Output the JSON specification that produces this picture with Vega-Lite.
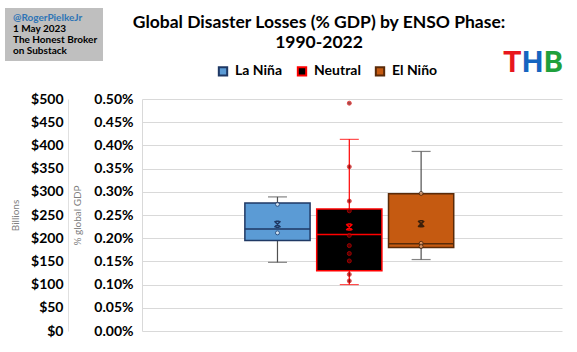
{
  "$schema": "https://vega.github.io/schema/vega-lite/v6.json",
  "width": 420,
  "height": 232,
  "autosize": {"type": "none"},
  "padding": {"left": 142, "top": 99, "right": 15, "bottom": 21},
  "background": "white",
  "title": {
    "text": ["Global Disaster Losses (% GDP) by ENSO Phase:", "1990-2022"],
    "font": "Lato", "fontSize": 17.5, "fontWeight": "bold", "color": "black",
    "anchor": "middle", "frame": "group", "dx": -33, "offset": -61, "baseline": "bottom", "lineHeight": 20
  },
  "datasets": {
    "stats": [
      {"phase": "La Niña", "lo": 0.148, "q1": 0.195, "med": 0.220, "q3": 0.276, "hi": 0.289, "mean": 0.230},
      {"phase": "Neutral", "lo": 0.100, "q1": 0.130, "med": 0.208, "q3": 0.263, "hi": 0.413, "mean": 0.224},
      {"phase": "El Niño", "lo": 0.154, "q1": 0.180, "med": 0.188, "q3": 0.296, "hi": 0.387, "mean": 0.231}
    ],
    "points": [
      {"phase": "La Niña", "v": 0.273},
      {"phase": "La Niña", "v": 0.2115},
      {"phase": "Neutral", "v": 0.491},
      {"phase": "Neutral", "v": 0.354},
      {"phase": "Neutral", "v": 0.280},
      {"phase": "Neutral", "v": 0.259},
      {"phase": "Neutral", "v": 0.206},
      {"phase": "Neutral", "v": 0.184},
      {"phase": "Neutral", "v": 0.167},
      {"phase": "Neutral", "v": 0.151},
      {"phase": "Neutral", "v": 0.122},
      {"phase": "Neutral", "v": 0.108},
      {"phase": "El Niño", "v": 0.2965},
      {"phase": "El Niño", "v": 0.189},
      {"phase": "El Niño", "v": 0.182}
    ],
    "credit": [
      {"line": "@RogerPielkeJr"}, {"line": "1 May 2023"}, {"line": "The Honest Broker"}, {"line": "on Substack"}
    ],
    "logo": [{"letter": "T"}, {"letter": "H"}, {"letter": "B"}],
    "usd": [{"usd": 0}, {"usd": 500}]
  },
  "layer": [
    {
      "data": {"name": "stats"},
      "encoding": {
        "x": {
          "field": "phase", "type": "nominal",
          "scale": {"domain": ["left gap", "La Niña", "Neutral", "El Niño", "right gap"], "paddingInner": 0.092, "paddingOuter": 0.47, "align": 0.46},
          "axis": null
        }
      },
      "layer": [
        {
          "mark": {"type": "rule", "strokeWidth": 1.2},
          "encoding": {
            "y": {
              "field": "lo", "type": "quantitative",
              "scale": {"domain": [0, 0.5], "nice": false, "zero": true},
              "axis": {
                "title": "% global GDP",
                "values": [0, 0.05, 0.1, 0.15, 0.2, 0.25, 0.3, 0.35, 0.4, 0.45, 0.5],
                "labelExpr": "format(datum.value, '.2f') + '%'",
                "labelFont": "Lato", "labelFontSize": 14, "labelFontWeight": "bold", "labelColor": "black",
                "labelPadding": 9, "ticks": false,
                "domainColor": "#d9d9d9", "grid": true, "gridColor": "#d9d9d9",
                "titleFont": "Lato", "titleFontSize": 10, "titleFontWeight": "normal", "titleColor": "#7f7f7f", "titlePadding": 11
              }
            },
            "y2": {"field": "hi"},
            "stroke": {"condition": [{"test": "datum.phase === 'Neutral'", "value": "#FF0000"}], "value": "#505050"}
          }
        },
        {
          "mark": {"type": "bar", "strokeWidth": 1.5, "width": {"band": 1}},
          "encoding": {
            "y": {
              "field": "q1", "type": "quantitative",
              "axis": {
                "title": "% global GDP",
                "values": [0, 0.05, 0.1, 0.15, 0.2, 0.25, 0.3, 0.35, 0.4, 0.45, 0.5],
                "labelExpr": "format(datum.value, '.2f') + '%'",
                "labelFont": "Lato", "labelFontSize": 14, "labelFontWeight": "bold", "labelColor": "black",
                "labelPadding": 9, "ticks": false,
                "domainColor": "#d9d9d9", "grid": true, "gridColor": "#d9d9d9",
                "titleFont": "Lato", "titleFontSize": 10, "titleFontWeight": "normal", "titleColor": "#7f7f7f", "titlePadding": 11
              }
            },
            "y2": {"field": "q3"},
            "fill": {
              "field": "phase", "type": "nominal",
              "scale": {"domain": ["La Niña", "Neutral", "El Niño"], "range": ["#5B9BD5", "#000000", "#C55A11"]},
              "legend": {
                "title": null, "orient": "none", "legendX": 74, "legendY": -35, "direction": "horizontal",
                "symbolType": "square", "symbolSize": 70, "symbolStrokeWidth": 2,
                "labelFont": "Lato", "labelFontSize": 14, "labelFontWeight": "bold", "labelColor": "black",
                "columnPadding": 10, "labelOffset": 5
              }
            },
            "stroke": {
              "field": "phase", "type": "nominal",
              "scale": {"domain": ["La Niña", "Neutral", "El Niño"], "range": ["#1F3864", "#FF0000", "#5A2A08"]},
              "legend": {
                "title": null, "orient": "none", "legendX": 74, "legendY": -35, "direction": "horizontal",
                "symbolType": "square", "symbolSize": 70, "symbolStrokeWidth": 2,
                "labelFont": "Lato", "labelFontSize": 14, "labelFontWeight": "bold", "labelColor": "black",
                "columnPadding": 10, "labelOffset": 5
              }
            }
          }
        },
        {
          "mark": {"type": "bar", "strokeWidth": 1.5, "width": {"band": 1}, "fillOpacity": 0},
          "encoding": {
            "y": {
              "field": "med", "type": "quantitative",
              "axis": {
                "title": "% global GDP",
                "values": [0, 0.05, 0.1, 0.15, 0.2, 0.25, 0.3, 0.35, 0.4, 0.45, 0.5],
                "labelExpr": "format(datum.value, '.2f') + '%'",
                "labelFont": "Lato", "labelFontSize": 14, "labelFontWeight": "bold", "labelColor": "black",
                "labelPadding": 9, "ticks": false,
                "domainColor": "#d9d9d9", "grid": true, "gridColor": "#d9d9d9",
                "titleFont": "Lato", "titleFontSize": 10, "titleFontWeight": "normal", "titleColor": "#7f7f7f", "titlePadding": 11
              }
            },
            "y2": {"field": "med"},
            "stroke": {"condition": [{"test": "datum.phase === 'Neutral'", "value": "#FF0000"}, {"test": "datum.phase === 'La Niña'", "value": "#1F3864"}], "value": "#5A2A08"}
          }
        },
        {
          "mark": {"type": "tick", "size": 19, "thickness": 1.2},
          "encoding": {
            "y": {
              "field": "lo", "type": "quantitative",
              "axis": {
                "title": "% global GDP",
                "values": [0, 0.05, 0.1, 0.15, 0.2, 0.25, 0.3, 0.35, 0.4, 0.45, 0.5],
                "labelExpr": "format(datum.value, '.2f') + '%'",
                "labelFont": "Lato", "labelFontSize": 14, "labelFontWeight": "bold", "labelColor": "black",
                "labelPadding": 9, "ticks": false,
                "domainColor": "#d9d9d9", "grid": true, "gridColor": "#d9d9d9",
                "titleFont": "Lato", "titleFontSize": 10, "titleFontWeight": "normal", "titleColor": "#7f7f7f", "titlePadding": 11
              }
            },
            "color": {"condition": [{"test": "datum.phase === 'Neutral'", "value": "#FF0000"}], "value": "#505050"}
          }
        },
        {
          "mark": {"type": "tick", "size": 19, "thickness": 1.2},
          "encoding": {
            "y": {
              "field": "hi", "type": "quantitative",
              "axis": {
                "title": "% global GDP",
                "values": [0, 0.05, 0.1, 0.15, 0.2, 0.25, 0.3, 0.35, 0.4, 0.45, 0.5],
                "labelExpr": "format(datum.value, '.2f') + '%'",
                "labelFont": "Lato", "labelFontSize": 14, "labelFontWeight": "bold", "labelColor": "black",
                "labelPadding": 9, "ticks": false,
                "domainColor": "#d9d9d9", "grid": true, "gridColor": "#d9d9d9",
                "titleFont": "Lato", "titleFontSize": 10, "titleFontWeight": "normal", "titleColor": "#7f7f7f", "titlePadding": 11
              }
            },
            "color": {"condition": [{"test": "datum.phase === 'Neutral'", "value": "#FF0000"}], "value": "#505050"}
          }
        },
        {
          "data": {"name": "points"},
          "mark": {"type": "point", "shape": "circle", "filled": false, "size": 16, "strokeWidth": 1},
          "encoding": {
            "y": {
              "field": "v", "type": "quantitative",
              "axis": {
                "title": "% global GDP",
                "values": [0, 0.05, 0.1, 0.15, 0.2, 0.25, 0.3, 0.35, 0.4, 0.45, 0.5],
                "labelExpr": "format(datum.value, '.2f') + '%'",
                "labelFont": "Lato", "labelFontSize": 14, "labelFontWeight": "bold", "labelColor": "black",
                "labelPadding": 9, "ticks": false,
                "domainColor": "#d9d9d9", "grid": true, "gridColor": "#d9d9d9",
                "titleFont": "Lato", "titleFontSize": 10, "titleFontWeight": "normal", "titleColor": "#7f7f7f", "titlePadding": 11
              }
            },
            "fill": {"condition": [{"test": "datum.phase === 'Neutral'", "value": "#7A0000"}, {"test": "datum.phase === 'La Niña'", "value": "#FFFFFF"}], "value": "#F4B183"},
            "stroke": {"condition": [{"test": "datum.phase === 'Neutral'", "value": "#E00000"}, {"test": "datum.phase === 'La Niña'", "value": "#1F3864"}], "value": "#3B1F0A"},
            "fillOpacity": {"value": 1}
          }
        },
        {
          "mark": {"type": "point", "shape": "M-1,-1L1,1M1,-1L-1,1M-0.6,-1L0.6,-1M-0.6,1L0.6,1", "filled": false, "size": 36, "strokeWidth": 1.6, "opacity": 1},
          "encoding": {
            "y": {
              "field": "mean", "type": "quantitative",
              "axis": {
                "title": "% global GDP",
                "values": [0, 0.05, 0.1, 0.15, 0.2, 0.25, 0.3, 0.35, 0.4, 0.45, 0.5],
                "labelExpr": "format(datum.value, '.2f') + '%'",
                "labelFont": "Lato", "labelFontSize": 14, "labelFontWeight": "bold", "labelColor": "black",
                "labelPadding": 9, "ticks": false,
                "domainColor": "#d9d9d9", "grid": true, "gridColor": "#d9d9d9",
                "titleFont": "Lato", "titleFontSize": 10, "titleFontWeight": "normal", "titleColor": "#7f7f7f", "titlePadding": 11
              }
            },
            "color": {"condition": [{"test": "datum.phase === 'Neutral'", "value": "#FF0000"}, {"test": "datum.phase === 'La Niña'", "value": "#1F3864"}], "value": "#3B1F0A"}
          }
        }
      ]
    },
    {
      "data": {"name": "usd"},
      "mark": {"type": "point", "opacity": 0},
      "encoding": {
        "y": {
          "field": "usd", "type": "quantitative",
          "scale": {"domain": [0, 500], "nice": false},
          "axis": {
            "orient": "left", "offset": 74, "title": "Billions",
            "values": [0, 50, 100, 150, 200, 250, 300, 350, 400, 450, 500],
            "labelExpr": "'$' + datum.value",
            "labelFont": "Lato", "labelFontSize": 14, "labelFontWeight": "bold", "labelColor": "black",
            "labelPadding": 5, "ticks": false, "grid": false, "domainColor": "#e0e0e0",
            "titleFont": "Lato", "titleFontSize": 10, "titleFontWeight": "normal", "titleColor": "#7f7f7f", "titlePadding": 10
          }
        }
      }
    },
    {
      "data": {"name": "credit"},
      "mark": {"type": "point", "opacity": 0},
      "encoding": {
        "shape": {
          "field": "line", "type": "nominal",
          "scale": {"domain": ["@RogerPielkeJr", "1 May 2023", "The Honest Broker", "on Substack"]},
          "legend": {
            "title": null, "orient": "none", "legendX": -137, "legendY": -91,
            "fillColor": "#bfbfbf", "padding": 5, "symbolSize": 0, "symbolOpacity": 0, "symbolStrokeWidth": 0,
            "labelFont": "Lato", "labelFontSize": 10, "labelFontWeight": "bold",
            "labelColor": {"expr": "datum.value === '@RogerPielkeJr' ? '#2E75B6' : 'black'"},
            "rowPadding": 1, "labelOffset": -7
          }
        }
      }
    },
    {
      "data": {"name": "logo"},
      "mark": {"type": "point", "opacity": 0},
      "encoding": {
        "shape": {
          "field": "letter", "type": "nominal",
          "scale": {"domain": ["T", "H", "B"]},
          "legend": {
            "title": null, "orient": "none", "legendX": 364, "legendY": -51, "direction": "horizontal",
            "symbolSize": 0, "symbolOpacity": 0, "symbolStrokeWidth": 0, "labelOffset": -33, "columnPadding": 0,
            "labelFont": "Roboto", "labelFontSize": 30, "labelFontWeight": "bold",
            "labelColor": {"expr": "datum.value === 'T' ? '#E8161D' : datum.value === 'H' ? '#1565C0' : '#1FA03C'"}
          }
        }
      }
    }
  ],
  "resolve": {"scale": {"y": "independent", "shape": "independent"}, "legend": {"shape": "independent"}},
  "config": {
    "view": {"stroke": null},
    "font": "Lato"
  }
}
